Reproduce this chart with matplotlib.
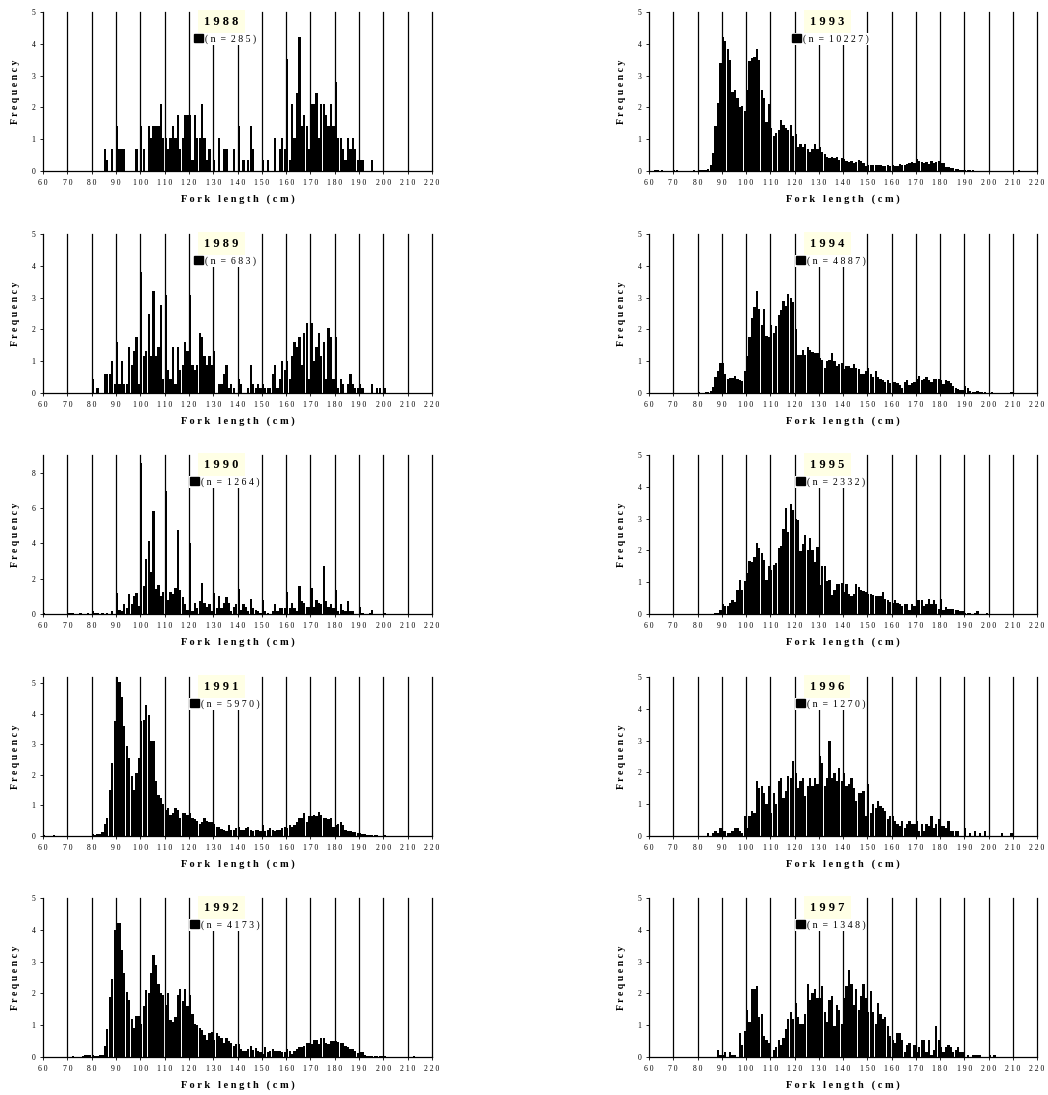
import numpy as np
import matplotlib
matplotlib.use('Agg')
import matplotlib.pyplot as plt
from matplotlib.patches import Patch
from matplotlib.font_manager import FontProperties

# ---------------- data ----------------
years = [1988, 1989, 1990, 1991, 1992, 1993, 1994, 1995, 1996, 1997]
sample_sizes = [285, 683, 1264, 5970, 4173, 10227, 4887, 2332, 1270, 1348]
x_ticks = list(range(60, 221, 10))
y_max = [5, 5, 9, 5.2, 5, 5, 5, 5, 5, 5]
y_step = [1, 1, 2, 1, 1, 1, 1, 1, 1, 1]

start_1988 = 85
freq_1988 = [0.70, 0.35, 0, 0.70, 0, 1.40, 0.70, 0.70, 0.70, 0,
             0, 0, 0, 0.70, 0, 1.40, 0.70, 0, 1.40, 1.05,
             1.40, 1.40, 1.40, 2.11, 1.05, 1.05, 0.70, 1.05, 1.40, 1.05,
             1.75, 0.70, 1.05, 1.75, 1.75, 1.75, 0.35, 1.75, 1.05, 1.05,
             2.11, 1.05, 0.35, 0.70, 0, 0.35, 0, 1.05, 0, 0.70,
             0.70, 0, 0, 0.70, 0, 1.40, 0, 0.35, 0, 0.35,
             1.40, 0.70, 0, 0, 0, 0.35, 0, 0.35, 0, 0,
             1.05, 0, 0.70, 1.05, 0.70, 3.51, 0.35, 2.11, 1.05, 2.46,
             4.21, 1.40, 1.75, 1.40, 0.70, 2.11, 2.11, 2.46, 1.05, 2.11,
             2.11, 1.75, 1.40, 2.11, 1.40, 2.81, 1.05, 1.05, 0.70, 0.35,
             1.05, 0.70, 1.05, 0.70, 0.35, 0.35, 0.35, 0, 0, 0, 0.35]

start_1989 = 80
freq_1989 = [0.44, 0, 0.15, 0, 0, 0.59, 0.59, 0.59, 1.02, 0.29,
             1.61, 0.29, 1.02, 0.29, 0.29, 1.46, 0.88, 1.32, 1.76, 0.29,
             3.81, 1.17, 1.32, 2.49, 1.17, 3.22, 1.17, 1.46, 2.78, 0.44,
             3.07, 0.73, 0.44, 1.46, 0.29, 1.46, 0.73, 0.88, 1.61, 1.32,
             3.07, 0.88, 0.73, 0.88, 1.90, 1.76, 1.17, 0.88, 1.17, 0.88,
             1.32, 0, 0.29, 0.29, 0.59, 0.88, 0.15, 0.29, 0.15, 0,
             0.44, 0.29, 0, 0, 0.15, 0.88, 0.29, 0.15, 0.29, 0.15,
             0.29, 0.15, 0.15, 0.15, 0.59, 0.88, 0.15, 0.44, 1.02, 0.73,
             1.02, 0.44, 1.17, 1.61, 1.46, 1.76, 0.88, 1.90, 2.20, 0.44,
             2.20, 1.02, 1.46, 1.90, 1.17, 1.61, 0.44, 2.05, 1.76, 0.44,
             1.76, 0.15, 0.44, 0.29, 0, 0.29, 0.59, 0.29, 0.15, 0.15,
             0.29, 0.15, 0, 0, 0, 0.29, 0, 0.15, 0.15, 0, 0.15]

start_1990 = 60
freq_1990 = [0.08, 0, 0, 0, 0, 0, 0, 0, 0, 0,
             0.08, 0.08, 0.08, 0, 0, 0.08, 0, 0, 0.08, 0,
             0.16, 0.08, 0.08, 0, 0.08, 0, 0.08, 0, 0.16, 0,
             1.19, 0.24, 0.16, 0.55, 0.32, 1.11, 0.55, 1.03, 1.19, 0.47,
             8.54, 1.58, 3.09, 4.11, 2.37, 5.85, 1.42, 1.66, 1.03, 1.27,
             6.96, 0.79, 1.27, 1.11, 1.50, 4.75, 1.34, 0.95, 0.55, 0.24,
             4.03, 0.16, 0.63, 0.32, 0.71, 1.74, 0.63, 0.40, 0.55, 0.16,
             1.19, 0.32, 1.03, 0.32, 0.63, 0.95, 0.63, 0.16, 0.40, 0.55,
             1.42, 0.24, 0.55, 0.40, 0.16, 0.87, 0.32, 0.24, 0.16, 0.08,
             0.79, 0.16, 0.08, 0, 0.16, 0.55, 0.16, 0.32, 0.32, 0.32,
             1.27, 0.32, 0.63, 0.32, 0.16, 1.58, 0.71, 0.63, 0.40, 0.40,
             1.50, 0.40, 0.79, 0.63, 0.55, 2.69, 0.71, 0.40, 0.55, 0.32,
             1.34, 0.16, 0.55, 0.24, 0.16, 0.71, 0.16, 0.16, 0, 0,
             0.40, 0.08, 0, 0, 0.08, 0.24, 0, 0, 0, 0, 0.08]

start_1991 = 60
freq_1991 = [0.02, 0, 0, 0, 0.02, 0, 0, 0, 0, 0,
             0, 0, 0, 0, 0, 0, 0, 0, 0, 0,
             0.05, 0.03, 0.05, 0.08, 0.12, 0.40, 0.60, 1.50, 2.40, 3.75,
             5.20, 5.05, 4.55, 3.60, 2.95, 2.55, 1.95, 1.50, 2.05, 2.55,
             3.75, 3.80, 4.30, 3.95, 3.10, 3.10, 1.80, 1.35, 1.25, 1.05,
             0.85, 0.90, 0.70, 0.75, 0.90, 0.85, 0.60, 0.75, 0.75, 0.70,
             0.75, 0.60, 0.55, 0.50, 0.40, 0.45, 0.60, 0.50, 0.45, 0.45,
             0.40, 0.30, 0.28, 0.22, 0.20, 0.15, 0.35, 0.20, 0.18, 0.25,
             0.30, 0.20, 0.20, 0.25, 0.30, 0.20, 0.15, 0.20, 0.18, 0.15,
             0.35, 0.15, 0.18, 0.25, 0.20, 0.15, 0.20, 0.20, 0.25, 0.30,
             0.25, 0.35, 0.30, 0.35, 0.45, 0.60, 0.60, 0.75, 0.45, 0.65,
             0.65, 0.70, 0.65, 0.80, 0.70, 0.60, 0.60, 0.55, 0.60, 0.30,
             0.35, 0.40, 0.45, 0.35, 0.18, 0.15, 0.15, 0.12, 0.12, 0.10,
             0.10, 0.06, 0.05, 0.04, 0.03, 0.02, 0.02, 0.02, 0.01, 0.01, 0.02]

start_1992 = 70
freq_1992 = [0, 0, 0.03, 0, 0, 0, 0.04, 0.05, 0.05, 0.06,
             0.07, 0.03, 0.02, 0.07, 0.07, 0.35, 0.88, 1.90, 2.45, 4.00,
             4.20, 4.20, 3.35, 2.65, 2.05, 1.80, 1.20, 0.90, 1.28, 1.28,
             1.05, 1.60, 2.10, 2.00, 2.65, 3.20, 2.90, 2.30, 2.00, 1.95,
             1.65, 2.00, 1.15, 1.10, 1.25, 1.95, 2.15, 1.75, 2.15, 1.60,
             1.95, 1.35, 1.05, 1.00, 0.90, 0.85, 0.70, 0.55, 0.75, 0.78,
             0.55, 0.75, 0.65, 0.60, 0.45, 0.60, 0.50, 0.45, 0.35, 0.40,
             0.40, 0.25, 0.20, 0.20, 0.25, 0.35, 0.22, 0.28, 0.20, 0.15,
             0.10, 0.30, 0.15, 0.20, 0.25, 0.20, 0.20, 0.18, 0.15, 0.15,
             0.25, 0.20, 0.10, 0.20, 0.25, 0.30, 0.30, 0.35, 0.45, 0.45,
             0.40, 0.55, 0.55, 0.40, 0.60, 0.60, 0.45, 0.40, 0.50, 0.50,
             0.50, 0.48, 0.45, 0.45, 0.35, 0.30, 0.25, 0.25, 0.20, 0.12,
             0.15, 0.15, 0.05, 0.04, 0.04, 0.04, 0.04, 0.02, 0.04, 0.03,
             0.02, 0.01, 0, 0, 0, 0, 0, 0, 0, 0, 0, 0, 0.03]

start_1993 = 60
freq_1993 = [0, 0, 0.02, 0.02, 0, 0.02, 0, 0, 0, 0,
             0.02, 0.02, 0.01, 0, 0, 0, 0, 0, 0.02, 0,
             0.02, 0.03, 0.03, 0.04, 0.05, 0.20, 0.58, 1.40, 2.15, 3.40,
             4.20, 4.10, 3.85, 3.50, 2.50, 2.55, 2.30, 2.00, 2.05, 1.90,
             2.55, 3.45, 3.55, 3.60, 3.85, 3.50, 2.55, 2.30, 1.55, 2.10,
             1.35, 1.10, 1.20, 1.30, 1.60, 1.45, 1.35, 1.30, 1.45, 1.10,
             1.15, 0.75, 0.85, 0.75, 0.85, 0.70, 0.60, 0.70, 0.85, 0.70,
             0.75, 0.60, 0.55, 0.45, 0.40, 0.45, 0.40, 0.45, 0.35, 0.40,
             0.38, 0.30, 0.28, 0.30, 0.25, 0.28, 0.35, 0.30, 0.25, 0.15,
             0.18, 0.20, 0.20, 0.20, 0.20, 0.18, 0.15, 0.15, 0.20, 0.15,
             0.18, 0.15, 0.15, 0.22, 0.20, 0.18, 0.22, 0.25, 0.28, 0.25,
             0.38, 0.30, 0.28, 0.25, 0.28, 0.22, 0.30, 0.25, 0.28, 0.30,
             0.25, 0.25, 0.12, 0.12, 0.10, 0.08, 0.06, 0.05, 0.04, 0.03,
             0.03, 0.02, 0.02, 0.02, 0.01, 0.01, 0.01, 0.01, 0.01, 0.01,
             0.01, 0, 0, 0, 0, 0, 0, 0, 0, 0, 0, 0, 0.02]

start_1994 = 80
freq_1994 = [0.03, 0.01, 0.01, 0.02, 0.04, 0.06, 0.20, 0.50, 0.70, 0.95,
             0.95, 0.60, 0.45, 0.47, 0.47, 0.55, 0.45, 0.40, 0.38, 0.70,
             1.15, 1.75, 2.35, 2.70, 3.20, 2.65, 2.15, 2.65, 1.80, 1.75,
             2.15, 1.90, 2.10, 2.45, 2.60, 2.90, 2.75, 3.10, 3.00, 2.85,
             2.00, 1.20, 1.20, 1.35, 1.20, 1.45, 1.35, 1.30, 1.25, 1.25,
             1.10, 1.05, 0.80, 1.00, 1.05, 1.25, 1.00, 0.85, 0.90, 0.95,
             0.75, 0.85, 0.85, 0.80, 0.90, 0.80, 0.75, 0.60, 0.60, 0.70,
             0.80, 0.60, 0.50, 0.70, 0.50, 0.45, 0.40, 0.35, 0.40, 0.30,
             0.35, 0.35, 0.30, 0.25, 0.15, 0.35, 0.40, 0.25, 0.30, 0.35,
             0.45, 0.55, 0.40, 0.45, 0.50, 0.40, 0.35, 0.45, 0.45, 0.45,
             0.40, 0.28, 0.40, 0.38, 0.30, 0.22, 0.15, 0.12, 0.10, 0.10,
             0.22, 0.15, 0.05, 0.03, 0.02, 0.05, 0.03, 0.04, 0.02, 0.01,
             0.01, 0.02, 0, 0, 0, 0, 0, 0, 0, 0.02]

start_1995 = 87
freq_1995 = [0.04, 0.04, 0.13, 0.30, 0.26, 0.26, 0.34, 0.43, 0.39, 0.77,
             1.07, 0.77, 1.03, 1.29, 1.67, 1.63, 1.80, 2.23, 2.06, 1.93,
             1.71, 1.07, 1.50, 1.37, 1.54, 1.59, 2.06, 2.14, 2.66, 3.34,
             2.57, 3.47, 3.26, 3.00, 2.96, 1.97, 2.19, 2.49, 2.02, 2.40,
             2.02, 1.63, 2.10, 0.90, 1.50, 1.50, 1.03, 1.07, 0.60, 0.77,
             0.94, 0.94, 0.99, 0.69, 0.94, 0.64, 0.56, 0.64, 0.94, 0.86,
             0.77, 0.73, 0.69, 0.64, 0.64, 0.60, 0.56, 0.56, 0.56, 0.69,
             0.47, 0.43, 0.39, 0.34, 0.43, 0.34, 0.30, 0.26, 0.30, 0.30,
             0.13, 0.30, 0.26, 0.43, 0.43, 0.43, 0.26, 0.30, 0.47, 0.30,
             0.43, 0.30, 0.17, 0.47, 0.13, 0.21, 0.17, 0.17, 0.17, 0.13,
             0.13, 0.09, 0.09, 0.04, 0.04, 0.04, 0, 0.04, 0.09, 0,
             0, 0, 0.04]

start_1996 = 84
freq_1996 = [0.08, 0, 0.08, 0.16, 0.08, 0.24, 0.16, 0.16, 0.08, 0.08,
             0.16, 0.24, 0.24, 0.16, 0.08, 0.63, 0.24, 0.63, 0.79, 0.71,
             1.73, 1.50, 1.57, 1.34, 1.02, 1.57, 0.71, 1.34, 1.02, 1.73,
             1.81, 1.18, 1.42, 1.89, 1.81, 2.36, 1.97, 1.50, 1.73, 1.81,
             1.26, 1.57, 1.81, 1.57, 1.81, 1.65, 2.52, 2.28, 1.57, 1.81,
             2.99, 1.81, 1.97, 1.73, 2.13, 1.73, 1.97, 1.57, 1.65, 1.81,
             1.50, 1.10, 1.34, 1.34, 1.42, 0.63, 1.65, 0.71, 1.02, 0.87,
             1.10, 0.94, 0.87, 0.79, 0.55, 0.63, 0.63, 0.47, 0.39, 0.31,
             0.47, 0.24, 0.39, 0.47, 0.39, 0.39, 0.47, 0.16, 0.39, 0.16,
             0.39, 0.31, 0.63, 0.24, 0.39, 0.55, 0.31, 0.31, 0.24, 0.47,
             0.16, 0.16, 0.16, 0.16, 0, 0, 0.24, 0, 0.08, 0,
             0.16, 0, 0.08, 0, 0.16, 0, 0, 0, 0, 0,
             0, 0.08, 0, 0, 0, 0.08]

start_1997 = 88
freq_1997 = [0.22, 0.07, 0.07, 0.15, 0, 0.15, 0.07, 0.07, 0, 0.74,
             0.37, 0.82, 1.48, 1.11, 2.15, 2.15, 2.23, 1.26, 1.34, 0.67,
             0.52, 0.45, 0, 0.22, 0.30, 0.52, 0.37, 0.59, 0.89, 1.19,
             1.41, 1.19, 1.71, 1.26, 1.04, 1.04, 1.34, 2.30, 1.78, 2.00,
             2.15, 1.85, 1.85, 2.23, 1.41, 1.11, 1.78, 1.93, 0.96, 1.63,
             1.48, 1.04, 1.85, 2.23, 2.74, 2.30, 1.63, 2.15, 1.48, 1.93,
             2.30, 1.85, 1.41, 2.08, 1.41, 1.04, 1.71, 1.34, 1.19, 1.26,
             0.96, 0.67, 0.52, 0.45, 0.74, 0.74, 0.52, 0.15, 0.37, 0.45,
             0, 0.37, 0.15, 0.30, 0.52, 0.52, 0.15, 0.52, 0.07, 0.22,
             0.96, 0.52, 0.30, 0.15, 0.30, 0.37, 0.30, 0.15, 0.22, 0.30,
             0.15, 0.15, 0, 0.07, 0, 0.07, 0.07, 0.07, 0.07, 0,
             0, 0, 0.07, 0, 0.07]

starts = [start_1988, start_1989, start_1990, start_1991, start_1992,
          start_1993, start_1994, start_1995, start_1996, start_1997]
freqs = [freq_1988, freq_1989, freq_1990, freq_1991, freq_1992,
         freq_1993, freq_1994, freq_1995, freq_1996, freq_1997]

# ---------------- figure ----------------
SERIF = 'Liberation Serif'
W, H = 1048, 1095
fig = plt.figure(figsize=(W / 100, H / 100), dpi=100)
fig.patch.set_facecolor('white')

col_left_px = [43, 649]
col_width_px = [389, 388]
row_top_px = [12, 234, 455, 677, 898]
ax_h_px = 159


def spaced(s):
    return ' '.join(s)


for i, year in enumerate(years):
    col, row = divmod(i, 5)
    l = col_left_px[col]
    w = col_width_px[col]
    t = row_top_px[row]
    ax = fig.add_axes([l / W, 1 - (t + ax_h_px) / H, w / W, ax_h_px / H])

    vals = freqs[i]
    lengths = np.arange(starts[i], starts[i] + len(vals))
    ax.bar(lengths, vals, width=0.92, align='edge', color='black',
           linewidth=0, zorder=2)

    for xt in x_ticks[1:]:
        ax.axvline(xt, color='black', lw=0.9, zorder=1, clip_on=False)

    ax.set_xlim(60, 220)
    ax.set_ylim(0, y_max[i])
    ax.set_xticks(x_ticks)
    ax.set_xticklabels([spaced(str(v)) for v in x_ticks],
                       fontfamily=SERIF, fontsize=5.5)
    yt = np.arange(0, int(y_max[i]) + 1, y_step[i])
    ax.set_yticks(yt)
    ax.set_yticklabels([str(v) for v in yt], fontfamily=SERIF, fontsize=5.5)
    ax.tick_params(axis='both', length=2.5, width=0.6, pad=3, color='black')

    for side in ['top', 'right']:
        ax.spines[side].set_visible(False)
    for side in ['left', 'bottom']:
        ax.spines[side].set_linewidth(0.9)
        ax.spines[side].set_zorder(3)

    ax.set_xlabel('F o r k   l e n g t h   ( c m )', fontfamily=SERIF,
                  fontsize=7.5, fontweight='bold')
    ax.xaxis.set_label_coords(0.5, -0.145)
    ax.set_ylabel(spaced('Frequency'), fontfamily=SERIF, fontsize=7,
                  fontweight='bold')
    ax.yaxis.set_label_coords(-0.058, 0.5)

    ax.text(0.459, 0.935, spaced(str(year)), transform=ax.transAxes,
            ha='center', va='center', fontfamily=SERIF, fontsize=9,
            fontweight='bold', zorder=6,
            bbox=dict(facecolor='#FFFFE5', edgecolor='none', pad=4.5))

    leg = ax.legend(handles=[Patch(facecolor='black', edgecolor='black')],
                    labels=['( n  =  %s )' % spaced(str(sample_sizes[i]))],
                    loc='center', bbox_to_anchor=(0.468, 0.83),
                    prop=FontProperties(family=SERIF, size=7),
                    frameon=True, fancybox=False, edgecolor='none',
                    facecolor='white', framealpha=1,
                    handlelength=0.9, handleheight=0.8, handletextpad=0.2,
                    borderpad=0.12, borderaxespad=0)
    leg.set_zorder(7)

fig.savefig('out.png', dpi=100, facecolor='white')
